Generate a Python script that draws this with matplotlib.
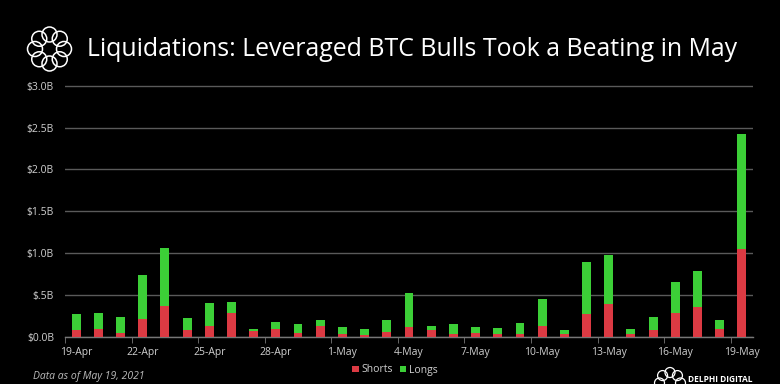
import matplotlib
matplotlib.use("Agg")
import matplotlib.pyplot as plt
from matplotlib.patches import Circle
from matplotlib.transforms import IdentityTransform
import numpy as np

dates = ["19-Apr", "20-Apr", "21-Apr", "22-Apr", "23-Apr", "24-Apr", "25-Apr", "26-Apr",
         "27-Apr", "28-Apr", "29-Apr", "30-Apr", "1-May", "2-May", "3-May", "4-May",
         "5-May", "6-May", "7-May", "8-May", "9-May", "10-May", "11-May", "12-May",
         "13-May", "14-May", "15-May", "16-May", "17-May", "18-May", "19-May"]
totals = [0.277, 0.29, 0.24, 0.74, 1.06, 0.225, 0.41, 0.42, 0.10, 0.178, 0.16, 0.198,
          0.115, 0.10, 0.20, 0.52, 0.13, 0.155, 0.115, 0.107, 0.162, 0.45, 0.083, 0.90,
          0.976, 0.10, 0.24, 0.66, 0.79, 0.20, 2.42]
shorts = [0.087, 0.10, 0.05, 0.21, 0.37, 0.087, 0.126, 0.29, 0.067, 0.10, 0.043, 0.126,
          0.035, 0.028, 0.055, 0.12, 0.08, 0.04, 0.047, 0.04, 0.04, 0.134, 0.035, 0.27,
          0.39, 0.04, 0.087, 0.285, 0.364, 0.09, 1.055]
longs = [t - s for t, s in zip(totals, shorts)]
yticks = [0.0, 0.5, 1.0, 1.5, 2.0, 2.5, 3.0]
ytick_labels = ["$0.0B", "$.5B", "$1.0B", "$1.5B", "$2.0B", "$2.5B", "$3.0B"]

RED = "#dc3a43"
GREEN = "#3ccf37"
BG = "#000000"
TXT = "#d0d0d0"

plt.rcParams['font.family'] = ['Open Sans', 'DejaVu Sans']

W, H = 780, 384
fig = plt.figure(figsize=(7.8, 3.84), dpi=100, facecolor=BG)
ymax = 3.05
axh = (337 - 85.7) / 3.0 * ymax / H
ax = fig.add_axes([65 / W, 1 - 337 / H, (753 - 65) / W, axh], facecolor=BG)

x = np.arange(len(dates))
ax.bar(x, shorts, width=0.4, color=RED, label="Shorts", zorder=3)
ax.bar(x, longs, width=0.4, bottom=shorts, color=GREEN, label="Longs", zorder=3)

ax.set_xlim(-0.5, len(dates) - 0.5)
ax.set_ylim(0, ymax)
ax.set_yticks(yticks)
ax.set_yticklabels(ytick_labels)
ax.yaxis.grid(True, color="#5a5a5a", linewidth=1.0, zorder=0)
ax.set_axisbelow(True)

ax.set_xticks(x[::3])
ax.set_xticklabels(dates[::3])
ax.set_xticks(np.arange(-0.5, len(dates), 3), minor=True)
ax.tick_params(axis="x", which="major", length=0, pad=7, labelsize=7.5, labelcolor=TXT)
ax.tick_params(axis="x", which="minor", length=4, color="#777777")
ax.tick_params(axis="y", length=0, pad=8, labelsize=7.5, labelcolor=TXT)

for s in ["top", "right", "left"]:
    ax.spines[s].set_visible(False)
ax.spines["bottom"].set_color("#777777")
ax.spines["bottom"].set_linewidth(1.0)

# Title
fig.text(87 / W, 1 - 50 / H, "Liquidations: Leveraged BTC Bulls Took a Beating in May",
         color="white", fontsize=17.9, va="center", ha="left")

def ring_logo(cx, cy, R, r, n, lw):
    for k in range(n):
        a = 2 * np.pi * k / n + np.pi / 2
        px = cx + R * np.cos(a)
        py = H - (cy + R * np.sin(a))
        c = Circle((px, py), r, fill=False, edgecolor="white", linewidth=lw,
                   transform=IdentityTransform())
        fig.add_artist(c)

# Logo (top-left)
ring_logo(49.5, 49, 14.5, 7.5, 8, 1.1)
# Bottom-right logo
ring_logo(670, 383, 10.5, 5.0, 8, 0.9)
fig.text(688 / W, 1 - 380 / H, "DELPHI DIGITAL", color="white", fontsize=6.0,
         fontweight="bold", va="center", ha="left")

# Footnote
fig.text(33 / W, 1 - 377 / H, "Data as of May 19, 2021", color="#bbbbbb",
         fontsize=7.5, style="italic", va="center", ha="left")

# Legend
leg = fig.legend(loc="center", bbox_to_anchor=(395 / W, 1 - 370 / H), ncol=2,
                 frameon=False, fontsize=7.5, handlelength=0.6, handleheight=0.6,
                 handletextpad=0.3, columnspacing=0.6, labelcolor=TXT)

fig.savefig("out.png", dpi=100, facecolor=BG)
